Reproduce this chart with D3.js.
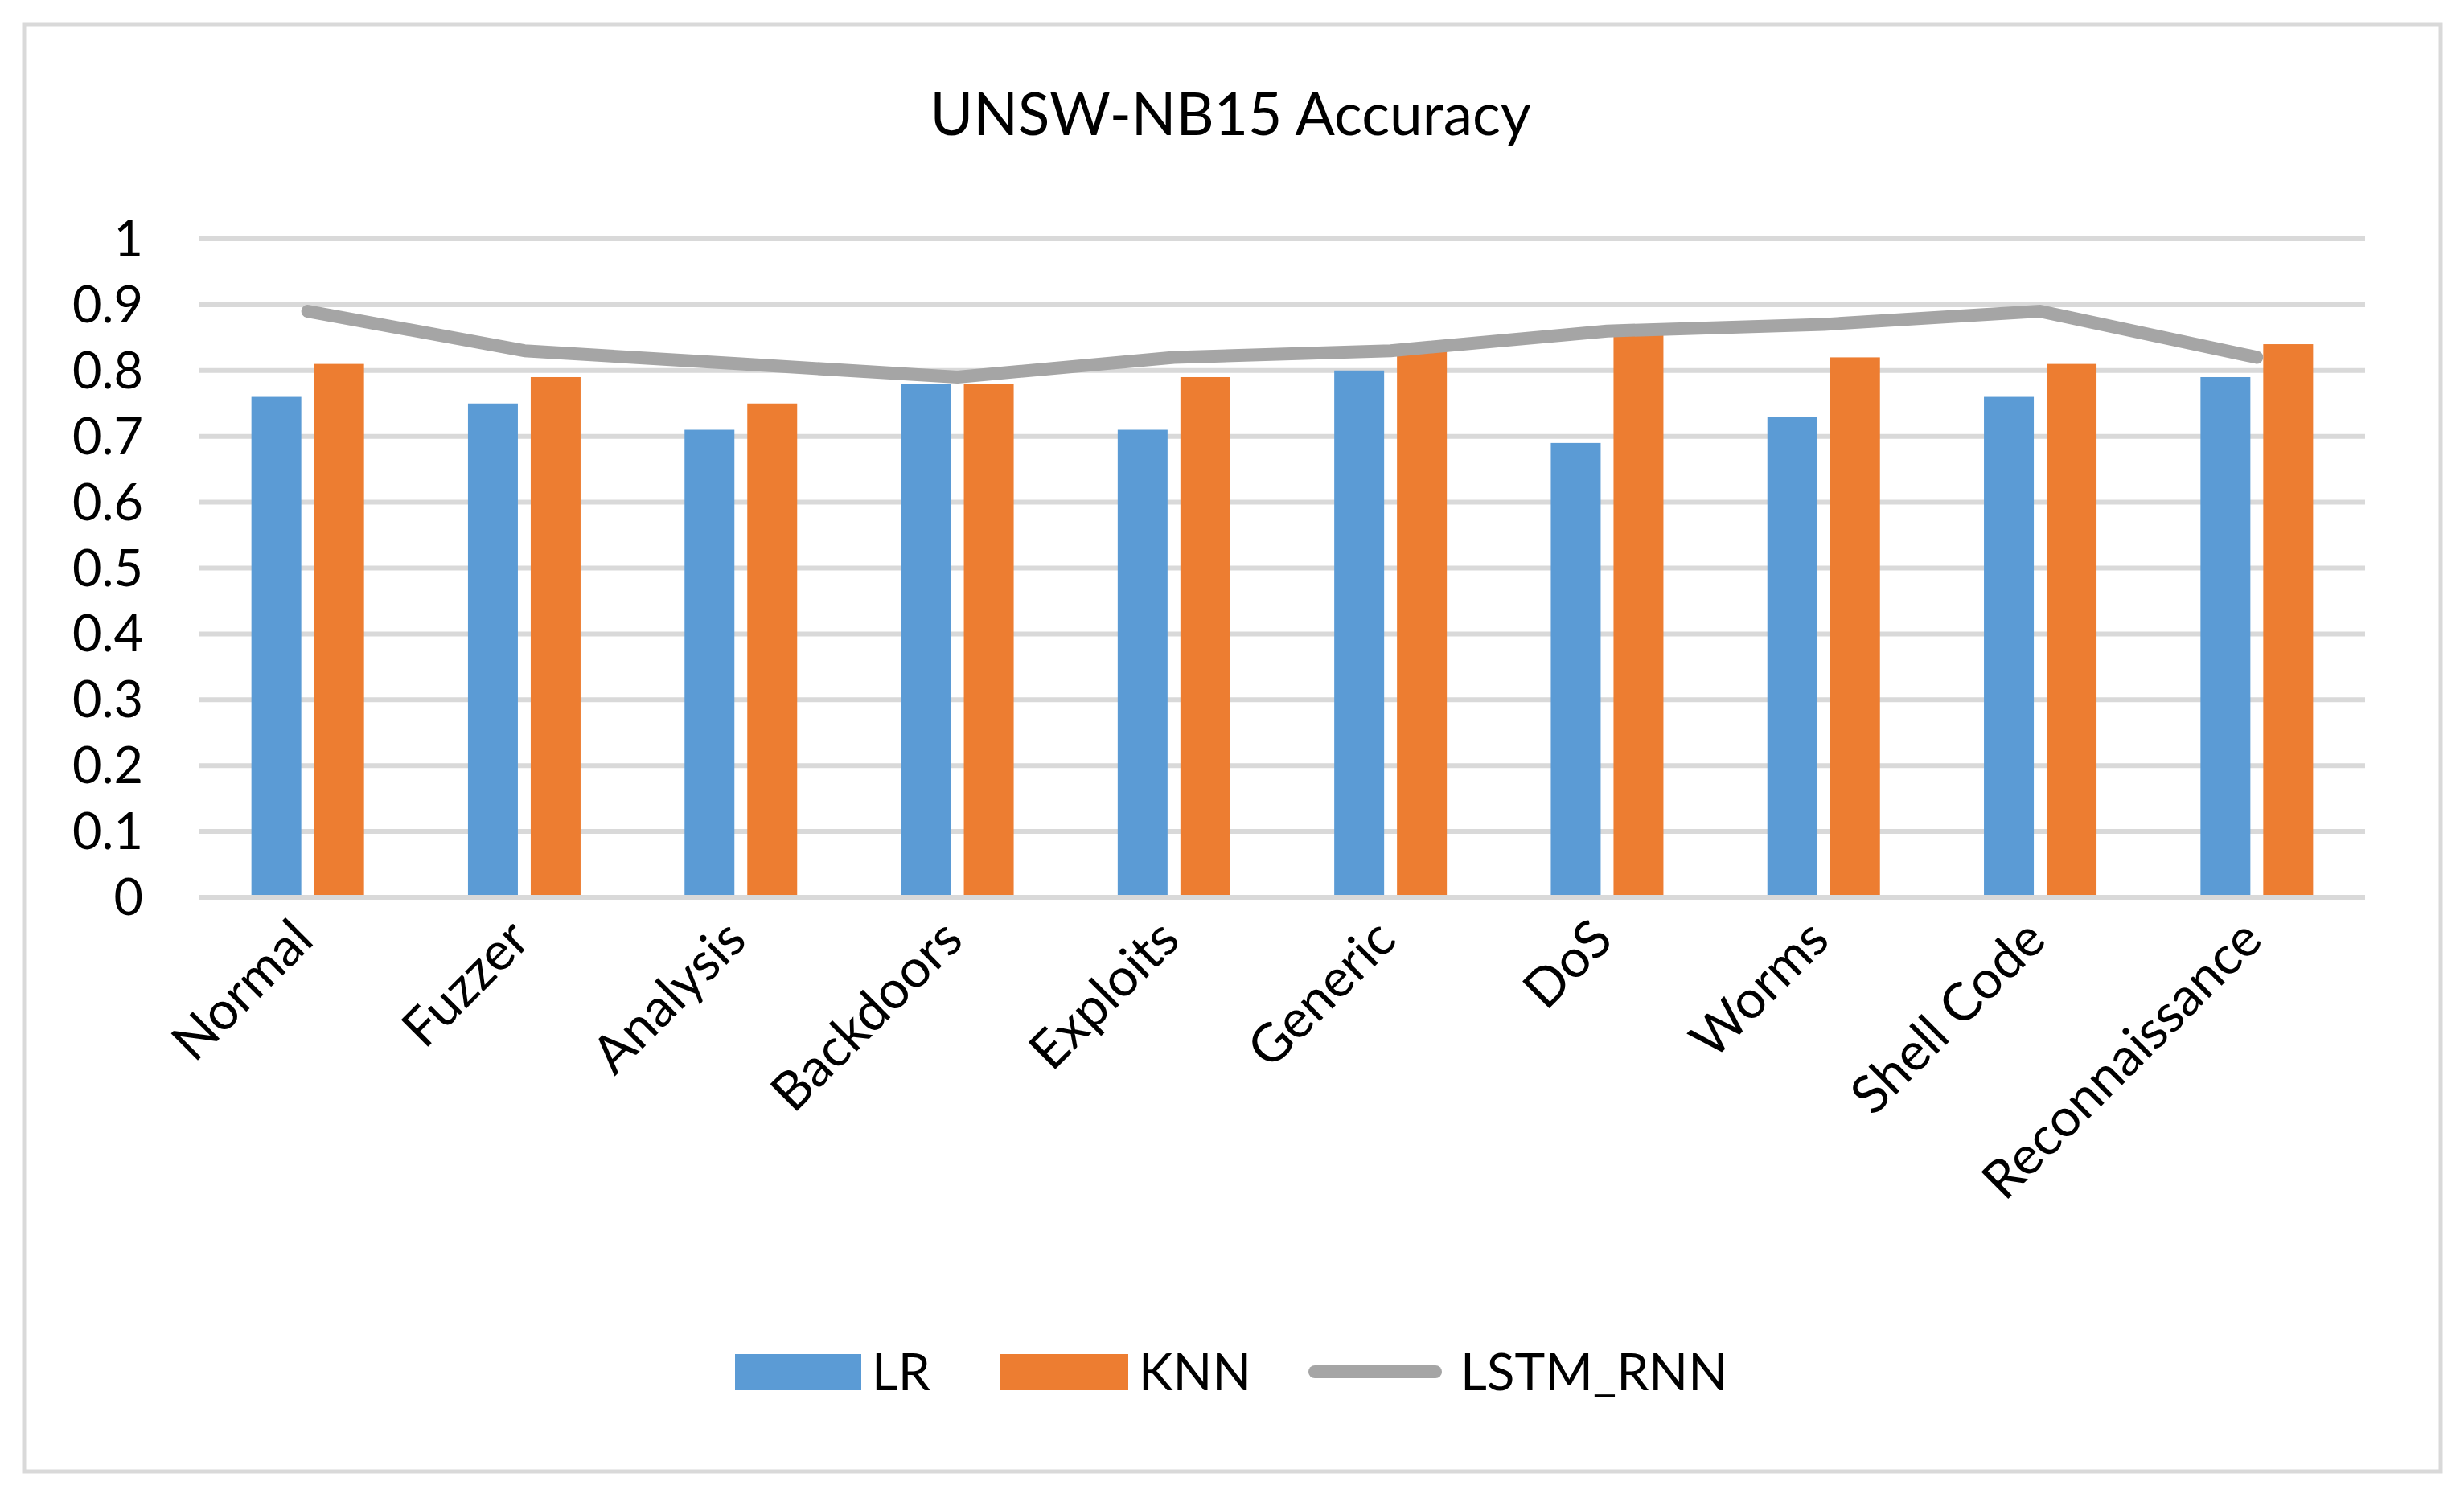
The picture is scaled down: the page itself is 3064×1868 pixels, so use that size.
<!DOCTYPE html>
<html>
<head>
<meta charset="utf-8">
<script src="https://cdn.jsdelivr.net/npm/d3@7"></script>
<style>
  body { margin: 0; background: #fff; }
  text { font-family: Lato, "Open Sans", sans-serif; fill: #000; }
</style>
</head>
<body>
<svg id="chart" width="3064" height="1868"></svg>
<script>
// chart values
var categories = ["Normal", "Fuzzer", "Analysis", "Backdoors", "Exploits", "Generic", "DoS", "Worms", "Shell Code", "Reconnaissance"];
var lrValues = [0.76, 0.75, 0.71, 0.78, 0.71, 0.80, 0.69, 0.73, 0.76, 0.79];
var knnValues = [0.81, 0.79, 0.75, 0.78, 0.79, 0.83, 0.86, 0.82, 0.81, 0.84];
var lstmValues = [0.89, 0.83, 0.81, 0.79, 0.82, 0.83, 0.86, 0.87, 0.89, 0.82];
var yTicks = [0, 0.1, 0.2, 0.3, 0.4, 0.5, 0.6, 0.7, 0.8, 0.9, 1];

var svg = d3.select("#chart");

// outer border
svg.append("rect")
    .attr("x", 30).attr("y", 30)
    .attr("width", 3005).attr("height", 1800)
    .attr("fill", "none")
    .attr("stroke", "#d9d9d9")
    .attr("stroke-width", 5);

// title
svg.append("text")
    .attr("x", 1530).attr("y", 168)
    .attr("text-anchor", "middle")
    .attr("font-size", 73)
    .text("UNSW-NB15 Accuracy");

var x = d3.scaleBand()
    .domain(categories)
    .range([248, 2941]);

var y = d3.scaleLinear()
    .domain([0, 1])
    .range([1116, 297]);

var barW = 62, gap = 16;

// gridlines
svg.append("g").selectAll("line")
    .data(yTicks)
    .enter().append("line")
    .attr("x1", 248).attr("x2", 2941)
    .attr("y1", function (d) { return y(d); })
    .attr("y2", function (d) { return y(d); })
    .attr("stroke", "#d9d9d9")
    .attr("stroke-width", 6);

// y tick labels
svg.append("g").selectAll("text")
    .data(yTicks)
    .enter().append("text")
    .attr("x", 178)
    .attr("y", function (d) { return y(d) + 22; })
    .attr("text-anchor", "end")
    .attr("font-size", 63)
    .text(function (d) { return d; });

function center(c) { return x(c) + x.bandwidth() / 2; }

// LR bars
svg.append("g").selectAll("rect")
    .data(lrValues)
    .enter().append("rect")
    .attr("x", function (d, i) { return center(categories[i]) - gap / 2 - barW; })
    .attr("y", function (d) { return y(d); })
    .attr("width", barW)
    .attr("height", function (d) { return y(0) - y(d) - 3; })
    .attr("fill", "#5b9bd5");

// KNN bars
svg.append("g").selectAll("rect")
    .data(knnValues)
    .enter().append("rect")
    .attr("x", function (d, i) { return center(categories[i]) + gap / 2; })
    .attr("y", function (d) { return y(d); })
    .attr("width", barW)
    .attr("height", function (d) { return y(0) - y(d) - 3; })
    .attr("fill", "#ed7d31");

// LSTM_RNN line
var line = d3.line()
    .x(function (d, i) { return center(categories[i]); })
    .y(function (d) { return y(d); });

svg.append("path")
    .datum(lstmValues)
    .attr("d", line)
    .attr("fill", "none")
    .attr("stroke", "#a5a5a5")
    .attr("stroke-width", 16)
    .attr("stroke-linecap", "round")
    .attr("stroke-linejoin", "round");

// x labels, rotated
svg.append("g").selectAll("text")
    .data(categories)
    .enter().append("text")
    .attr("transform", function (d) {
        return "translate(" + (center(d) + 10) + ",1172) rotate(-45)";
    })
    .attr("text-anchor", "end")
    .attr("font-size", 66)
    .text(function (d) { return d; });

// legend
var legend = svg.append("g");
legend.append("rect").attr("x", 914).attr("y", 1684).attr("width", 157).attr("height", 45).attr("fill", "#5b9bd5");
legend.append("text").attr("x", 1084).attr("y", 1729).attr("font-size", 64).text("LR");
legend.append("rect").attr("x", 1243).attr("y", 1684).attr("width", 160).attr("height", 45).attr("fill", "#ed7d31");
legend.append("text").attr("x", 1416).attr("y", 1729).attr("font-size", 64).text("KNN");
legend.append("line").attr("x1", 1635).attr("x2", 1785).attr("y1", 1706).attr("y2", 1706)
    .attr("stroke", "#a5a5a5").attr("stroke-width", 16).attr("stroke-linecap", "round");
legend.append("text").attr("x", 1816).attr("y", 1729).attr("font-size", 64).text("LSTM_RNN");
</script>
</body>
</html>
